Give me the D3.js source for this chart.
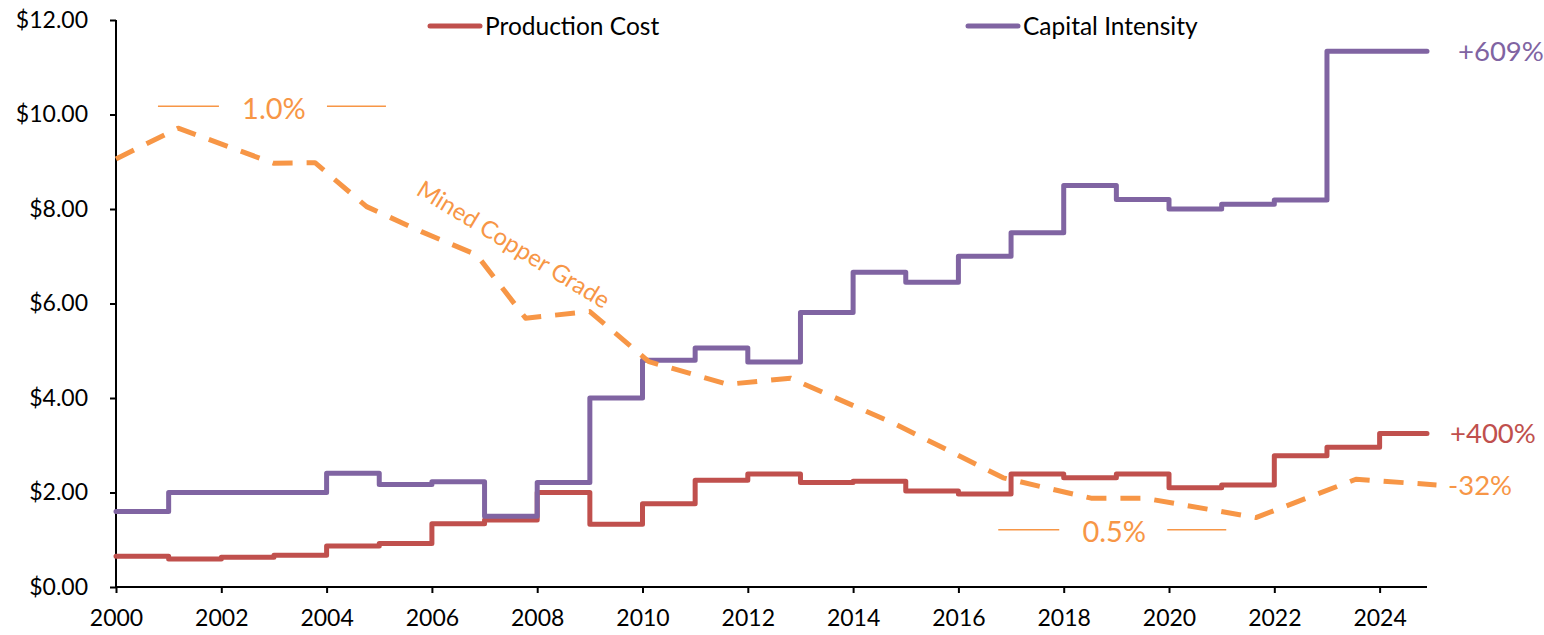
<!DOCTYPE html>
<html>
<head>
<meta charset="utf-8">
<script src="https://cdn.jsdelivr.net/npm/d3@7"></script>
<style>
  html, body { margin: 0; padding: 0; background: #fff; }
  svg { display: block; }
  text { font-family: Lato, "Open Sans", sans-serif; }
</style>
</head>
<body>
<svg id="chart" width="1544" height="635"></svg>
<script>
// ---- data ----
const years = [2000,2001,2002,2003,2004,2005,2006,2007,2008,2009,2010,2011,2012,
               2013,2014,2015,2016,2017,2018,2019,2020,2021,2022,2023,2024];
const endYear = 2024.9;
const productionCost = [0.65,0.59,0.63,0.67,0.87,0.92,1.34,1.42,2.00,1.33,1.76,2.26,2.39,
                        2.21,2.24,2.03,1.97,2.39,2.31,2.39,2.10,2.16,2.78,2.96,3.25];
const capitalIntensity = [1.60,2.00,2.00,2.00,2.41,2.17,2.23,1.50,2.21,4.00,4.80,5.06,4.76,
                          5.81,6.66,6.45,7.00,7.50,8.50,8.20,8.00,8.10,8.19,11.34,11.34];
const gradeYears = [2000,2001.18,2002.99,2003.78,2004.76,2005.8,2006.85,2007.78,2009.0,2010.12,
                    2011.62,2012.81,2014.8,2016.85,2018.52,2019.53,2021.65,2023.55,2025.08];
const gradeValues = [9.06,9.71,8.97,8.98,8.05,7.52,7.03,5.69,5.83,4.77,
                     4.29,4.42,3.45,2.31,1.88,1.88,1.47,2.28,2.16];
const yTicks = [0,2,4,6,8,10,12];
const xTicks = [2000,2002,2004,2006,2008,2010,2012,2014,2016,2018,2020,2022,2024];
const seriesNames = ["Production Cost","Capital Intensity"];
const endLabels = ["+400%","+609%","-32%"];
const gradeLabel = "Mined Copper Grade";
const gradeMarks = ["1.0%","0.5%"];
const gradeMarkValues = [10.13, 1.17];
const gradeMarkYears = [2003.0, 2018.96];

// ---- styles ----
const RED = "#C0504D", PURPLE = "#8064A2", ORANGE = "#F79646";
const svg = d3.select("#chart");
const margin = {left:116, right:117, top:20, bottom:48};
const W = 1544, H = 635;

const x = d3.scaleLinear().domain([2000, endYear]).range([margin.left, W - margin.right]);
const y = d3.scaleLinear().domain([0, 12]).range([H - margin.bottom, margin.top]);

// axes
const yAxis = svg.append("g").attr("transform", `translate(${margin.left},0)`)
  .call(d3.axisLeft(y).tickValues(yTicks).tickSize(6).tickPadding(22)
        .tickFormat(d => "$" + d.toFixed(2)));
const xAxis = svg.append("g").attr("transform", `translate(0,${y(0)})`)
  .call(d3.axisBottom(x).tickValues(xTicks).tickSize(6).tickPadding(17)
        .tickFormat(d3.format("d")));
[yAxis, xAxis].forEach(g => {
  g.select(".domain").attr("stroke", "#000").attr("stroke-width", 2);
  g.selectAll(".tick line").attr("stroke", "#000").attr("stroke-width", 2);
  g.selectAll(".tick text").attr("fill", "#000").style("font-size", "23px")
    .style("font-family", "Lato, sans-serif");
});
yAxis.select(".domain").attr("d", `M0,${y(12)}V${y(0)}`);
xAxis.select(".domain").attr("d", `M${x(2000)},0H${x(endYear)}`);

// step series
function stepData(vals) {
  const d = years.map((yr, i) => [yr, vals[i]]);
  d.push([endYear, vals[vals.length - 1]]);
  return d;
}
const stepLine = d3.line().x(d => x(d[0])).y(d => y(d[1])).curve(d3.curveStepAfter);
svg.append("path").datum(stepData(productionCost)).attr("d", stepLine)
  .attr("fill", "none").attr("stroke", RED).attr("stroke-width", 5)
  .attr("stroke-linejoin", "round").attr("stroke-linecap", "round");
svg.append("path").datum(stepData(capitalIntensity)).attr("d", stepLine)
  .attr("fill", "none").attr("stroke", PURPLE).attr("stroke-width", 5)
  .attr("stroke-linejoin", "round").attr("stroke-linecap", "round");

// grade dashed line
const gradeLine = d3.line().x(d => x(d[0])).y(d => y(d[1]));
svg.append("path").datum(gradeYears.map((yr, i) => [yr, gradeValues[i]])).attr("d", gradeLine)
  .attr("fill", "none").attr("stroke", ORANGE).attr("stroke-width", 5)
  .attr("stroke-dasharray", "20,14").attr("stroke-linejoin", "round");

// grade rotated label
const p0 = [x(2007.55), y(7.25)];
svg.append("text").attr("transform", `translate(${p0[0]},${p0[1]}) rotate(31.5)`)
  .attr("text-anchor", "middle").attr("dy", "0.35em").attr("fill", ORANGE).style("font-size", "24px")
  .text(gradeLabel);

// grade level marks
gradeMarks.forEach((lab, i) => {
  const cx = x(gradeMarkYears[i]), cy = y(gradeMarkValues[i]);
  svg.append("text").attr("x", cx).attr("y", cy).attr("dy", "0.35em")
    .attr("text-anchor", "middle").attr("fill", ORANGE).style("font-size", "29px").text(lab);
  svg.append("line").attr("x1", cx - 116).attr("x2", cx - 55).attr("y1", cy - 2).attr("y2", cy - 2)
    .attr("stroke", ORANGE).attr("stroke-width", 1.5);
  svg.append("line").attr("x1", cx + 53).attr("x2", cx + 112).attr("y1", cy - 2).attr("y2", cy - 2)
    .attr("stroke", ORANGE).attr("stroke-width", 1.5);
});

// end labels
const endVals = [productionCost[productionCost.length-1], capitalIntensity[capitalIntensity.length-1], gradeValues[gradeValues.length-1]];
const endCols = [RED, PURPLE, ORANGE];
const endOffsets = [23, 31, 21];
endLabels.forEach((lab, i) => {
  svg.append("text").attr("x", x(endYear) + endOffsets[i]).attr("y", y(endVals[i])).attr("dy", "0.35em")
    .attr("fill", endCols[i]).style("font-size", "27.5px").text(lab);
});

// legend
const legendX = [428, 966];
seriesNames.forEach((name, i) => {
  const g = svg.append("g").attr("transform", `translate(${legendX[i]},26)`);
  g.append("line").attr("x1", 2).attr("x2", 52).attr("y1", 0).attr("y2", 0)
    .attr("stroke", [RED, PURPLE][i]).attr("stroke-width", 5).attr("stroke-linecap", "round");
  g.append("text").attr("x", 57).attr("y", 0).attr("dy", "0.35em").attr("fill", "#000")
    .style("font-size", "24.5px").text(name);
});
</script>
</body>
</html>
